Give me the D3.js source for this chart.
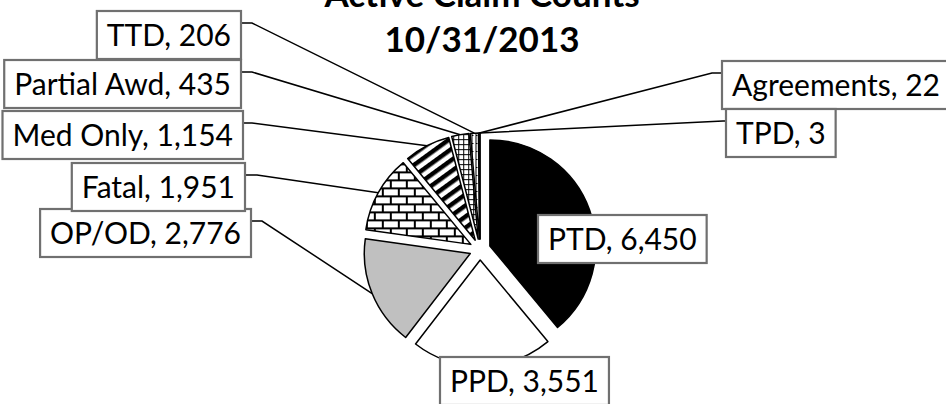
<!DOCTYPE html>
<html>
<head>
<meta charset="utf-8">
<script src="https://cdn.jsdelivr.net/npm/d3@7"></script>
<style>
  body { margin: 0; background: #fff; }
  svg { display: block; font-family: Lato, "Open Sans", sans-serif; }
</style>
</head>
<body>
<svg width="946" height="404"></svg>
<script>
// chart data
const titleLines = ["Active Claim Counts", "10/31/2013"];
const categories = ["PTD", "PPD", "OP/OD", "Fatal", "Med Only", "Partial Awd", "TTD", "Agreements", "TPD"];
const counts = [6450, 3551, 2776, 1951, 1154, 435, 206, 22, 3];

// fill for each slice, same order as categories
const fills = ["#000", "#fff", "#c0c0c0", "url(#brick)", "url(#stripes)", "url(#grid)", "url(#vlines)", "#fff", "#fff"];

// label boxes: side = which edge is fixed, elbowX = where the leader bends
const labelLayout = [
    {side: "left",  x: 538, y: 215},
    {side: "left",  x: 440, y: 357},
    {side: "right", x: 251, y: 209, elbowX: 262},
    {side: "right", x: 245, y: 163, elbowX: 257},
    {side: "right", x: 243, y: 111, elbowX: 252},
    {side: "right", x: 241, y: 60,  elbowX: 252},
    {side: "right", x: 241, y: 11,  elbowX: 252},
    {side: "left",  x: 722, y: 61,  elbowX: 712},
    {side: "left",  x: 726, y: 109, elbowX: 723}
];

const svg = d3.select("svg");
const cx = 480, cy = 249.5, radius = 106, explode = 10.5;
const fmt = d3.format(",");

// patterns
const defs = svg.append("defs");

const brick = defs.append("pattern").attr("id", "brick")
    .attr("patternUnits", "userSpaceOnUse").attr("width", 16).attr("height", 16);
brick.append("rect").attr("width", 16).attr("height", 16).attr("fill", "#000");
[[1, 1], [-7, 9], [9, 9]].forEach(p => {
    brick.append("rect").attr("x", p[0]).attr("y", p[1]).attr("width", 14).attr("height", 6).attr("fill", "#fff");
});

const stripes = defs.append("pattern").attr("id", "stripes")
    .attr("patternUnits", "userSpaceOnUse").attr("width", 9).attr("height", 9)
    .attr("patternTransform", "rotate(-36)");
stripes.append("rect").attr("width", 9).attr("height", 9).attr("fill", "#fff");
stripes.append("rect").attr("width", 9).attr("height", 4.5).attr("fill", "#000");

const grid = defs.append("pattern").attr("id", "grid")
    .attr("patternUnits", "userSpaceOnUse").attr("width", 5).attr("height", 5);
grid.append("rect").attr("width", 5).attr("height", 5).attr("fill", "#fff");
grid.append("path").attr("d", "M0,0.5H5M0.5,0V5").attr("stroke", "#000").attr("stroke-width", 1);

const vlines = defs.append("pattern").attr("id", "vlines")
    .attr("patternUnits", "userSpaceOnUse").attr("width", 4).attr("height", 8);
vlines.append("rect").attr("width", 4).attr("height", 8).attr("fill", "#fff");
vlines.append("path").attr("d", "M0.5,0V8M0,0.5H2").attr("stroke", "#000").attr("stroke-width", 1);

// soft shadow for the label boxes
const blur = defs.append("filter").attr("id", "soft")
    .attr("x", "-5%").attr("y", "-10%").attr("width", "110%").attr("height", "120%");
blur.append("feGaussianBlur").attr("stdDeviation", 0.6);

// pie layout
const pie = d3.pie().sort(null).value(d => d);
const arcs = pie(counts);
const arc = d3.arc().innerRadius(0).outerRadius(radius);
const mid = d => (d.startAngle + d.endAngle) / 2;

// title
svg.selectAll(".title")
    .data(titleLines)
    .enter().append("text")
    .attr("class", "title")
    .attr("x", 482)
    .attr("y", (d, i) => 7 + i * 45)
    .attr("text-anchor", "middle")
    .attr("font-size", 35)
    .attr("font-weight", "bold")
    .text(d => d);

// leader lines (drawn first so the boxes cover their ends)
const leaders = svg.append("g");
const boxes = svg.append("g");

// slices
const g = svg.append("g").attr("transform", `translate(${cx},${cy})`);
g.selectAll("path")
    .data(arcs)
    .enter().append("path")
    .attr("transform", d => {
        const p = d3.pointRadial(mid(d), explode);
        return `translate(${p[0]},${p[1]})`;
    })
    .attr("d", arc)
    .attr("fill", (d, i) => fills[i])
    .attr("stroke", "#000")
    .attr("stroke-width", 1.5)
    .attr("stroke-linejoin", "round");

svg.node().appendChild(boxes.node());

const fontSize = 30;
const boxH = 48;
const padX = 10;

arcs.forEach((d, i) => {
    const lay = labelLayout[i];
    const label = boxes.append("g");
    const txt = label.append("text")
        .attr("font-size", fontSize)
        .attr("fill", "#000")
        .text(`${categories[i]}, ${fmt(counts[i])}`);
    const w = txt.node().getComputedTextLength() + padX * 2;
    const x0 = lay.side === "left" ? lay.x : lay.x - w;
    label.insert("rect", "text")
        .attr("x", x0).attr("y", lay.y)
        .attr("width", w).attr("height", boxH)
        .attr("fill", "#fff")
        .attr("stroke", "#6f6f6f")
        .attr("stroke-width", 2.2)
        .attr("filter", "url(#soft)");
    txt.attr("x", x0 + padX).attr("y", lay.y + boxH / 2 + fontSize * 0.72 / 2);

    if (lay.elbowX !== undefined) {
        const edgeX = lay.side === "left" ? x0 : x0 + w;
        const ly = lay.y + 12;
        const p = d3.pointRadial(mid(d), radius + explode);
        leaders.append("polyline")
            .attr("points", [[edgeX, ly], [lay.elbowX, ly], [cx + p[0], cy + p[1]]].map(q => q.join(",")).join(" "))
            .attr("fill", "none")
            .attr("stroke", "#000")
            .attr("stroke-width", 1.5);
    }
});
</script>
</body>
</html>
